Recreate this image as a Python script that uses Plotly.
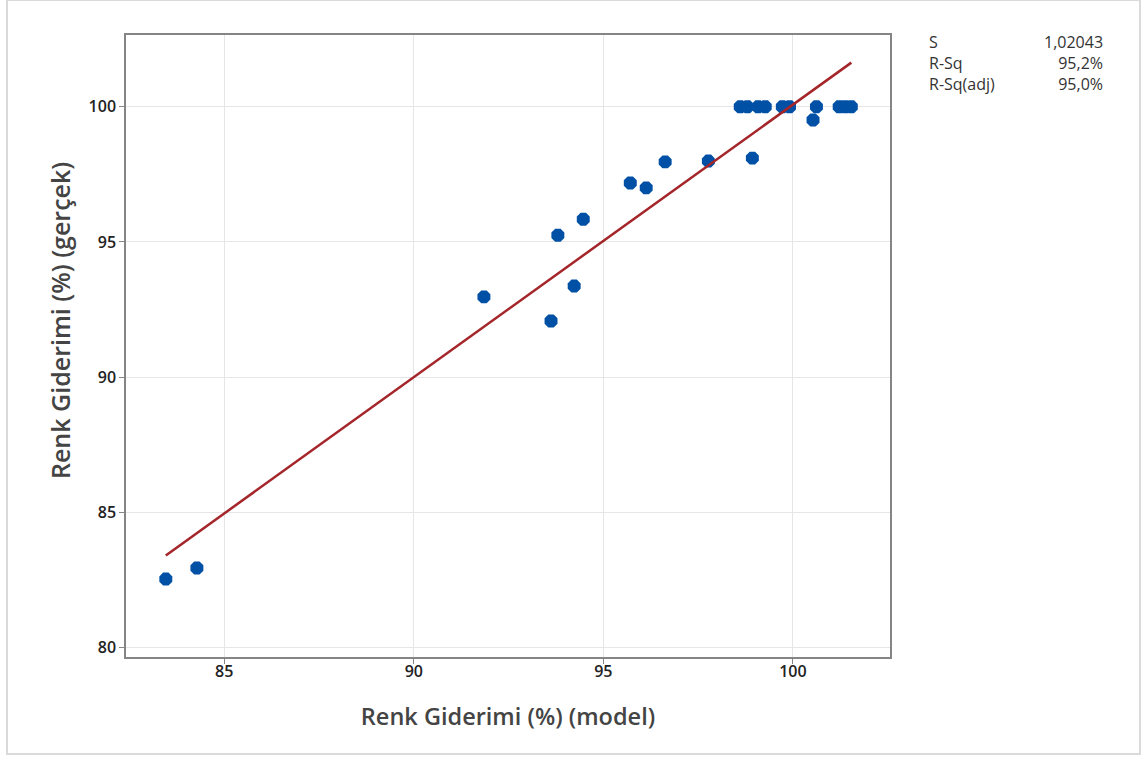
import numpy as np
import plotly.graph_objects as go

# Data
model = [83.46, 84.28, 91.85, 93.62, 93.80, 94.23, 94.47, 95.71, 96.13, 96.63,
         97.77, 98.93, 98.61, 98.80, 99.08, 99.27, 99.72, 99.91, 100.62, 100.53,
         101.22, 101.38, 101.54]
actual = [82.54, 82.95, 92.97, 92.08, 95.25, 93.37, 95.84, 97.18, 97.00, 97.96,
          97.99, 98.10, 100.0, 100.0, 100.0, 100.0, 100.0, 100.0, 100.0, 99.51,
          100.0, 100.0, 100.0]
stat_labels = ["S", "R-Sq", "R-Sq(adj)"]
stat_values = ["1,02043", "95,2%", "95,0%"]

x_title = "Renk Giderimi (%) (model)"
y_title = "Renk Giderimi (%) (gerçek)"

slope, intercept = np.polyfit(model, actual, 1)
xl = np.array([min(model), max(model)])
yl = slope * xl + intercept

FONT = "Open Sans, Noto Sans, sans-serif"

fig = go.Figure()
fig.add_trace(go.Scatter(x=model, y=actual, mode="markers",
                         marker=dict(size=14, color="#0050A5", symbol="octagon",
                                     line=dict(width=0)),
                         showlegend=False, hoverinfo="x+y"))
fig.add_trace(go.Scatter(x=xl, y=yl, mode="lines",
                         line=dict(color="#A4252A", width=2.5),
                         showlegend=False))

axis_common = dict(showgrid=True, gridcolor="#E6E6E6", gridwidth=1,
                   showline=True, linecolor="#858585", linewidth=1.5, mirror=True,
                   ticks="outside", ticklen=5, tickcolor="#858585", tickwidth=1,
                   zeroline=False, dtick=5,
                   tickfont=dict(family=FONT, size=16, color="#222222", weight=600))

fig.update_xaxes(range=[82.41, 102.56], tick0=85, ticklabelstandoff=-6,
                 title=dict(text=x_title, font=dict(family=FONT, size=23.5, color="#444444", weight=600),
                            standoff=28),
                 **axis_common)
fig.update_yaxes(range=[79.66, 102.65], tick0=80, **axis_common)

annotations = [
    dict(x=(60 - 126) / 764, y=(657 - 321) / 622, xref="paper", yref="paper",
         text=y_title, textangle=-90, showarrow=False, xanchor="center", yanchor="middle",
         font=dict(family=FONT, size=25, color="#444444", weight=600)),
    dict(x=(927 - 126) / 764, y=(657 - 29) / 622, xref="paper", yref="paper",
         text="<br>".join(stat_labels), showarrow=False, xanchor="left", yanchor="top",
         align="left", font=dict(family=FONT, size=16, color="#333333")),
    dict(x=(1105 - 126) / 764, y=(657 - 29) / 622, xref="paper", yref="paper",
         text="<br>".join(stat_values), showarrow=False, xanchor="right", yanchor="top",
         align="right", font=dict(family=FONT, size=16, color="#333333")),
]

fig.update_layout(
    width=1147, height=758,
    margin=dict(l=126, r=257, t=35, b=101),
    paper_bgcolor="white", plot_bgcolor="white",
    annotations=annotations,
    shapes=[dict(type="rect", xref="paper", yref="paper",
                 x0=(7 - 126) / 764, x1=(1140 - 126) / 764,
                 y0=(657 - 754) / 622, y1=(657 - 0) / 622,
                 line=dict(color="#DADADA", width=2), layer="below")],
)

fig.write_html("out.html")
